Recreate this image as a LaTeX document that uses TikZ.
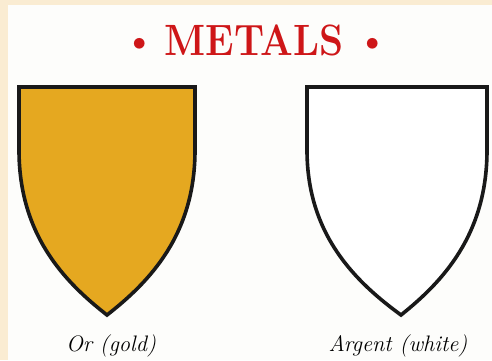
\documentclass[tikz,border=0pt]{standalone}
\usepackage{fontspec}
\definecolor{parch}{RGB}{250,236,210}
\definecolor{paper}{RGB}{253,253,251}
\definecolor{gold}{RGB}{229,168,32}
\definecolor{titlered}{RGB}{206,22,24}
\tikzset{
  shield/.style={draw=black!90, line width=3.6bp, line join=miter},
  caption/.style={font=\fontsize{22.5}{22.5}\selectfont\itshape, inner sep=0pt, anchor=base},
  titletext/.style={text=titlered, font=\fontsize{44}{44}\selectfont\bfseries, inner sep=0pt, anchor=base},
}
\newcommand{\shieldshape}[4]{% left, right, point x, options
  \path[#4] (#1,87) -- (#2,87) -- (#2,150)
    .. controls (#2,235) and ({#2-(#2-#3)*0.52},282) .. (#3,315)
    .. controls ({#1+(#3-#1)*0.52},282) and (#1,235) .. (#1,150) -- cycle;}
\begin{document}
\begin{tikzpicture}[x=1bp,y=-1bp]
\useasboundingbox (0,0) rectangle (492,360);
\fill[parch] (0,0) rectangle (492,360);
\fill[paper] (8,5) rectangle (492,360);
% title
\node[titletext, xscale=0.88] (title) at (254,55) {METALS};
\node[titletext, font=\fontsize{48}{48}\selectfont] (bl) at (140,56) {\textbullet};
\node[titletext, font=\fontsize{48}{48}\selectfont] (br) at (373,56) {\textbullet};
% shields
\shieldshape{19}{195}{107}{shield, fill=gold}
\shieldshape{307}{487}{401}{shield, fill=white}
% captions
\node[caption] (or) at (111,351) {Or (gold)};
\node[caption] (argent) at (398,351) {Argent (white)};
\end{tikzpicture}
\end{document}
